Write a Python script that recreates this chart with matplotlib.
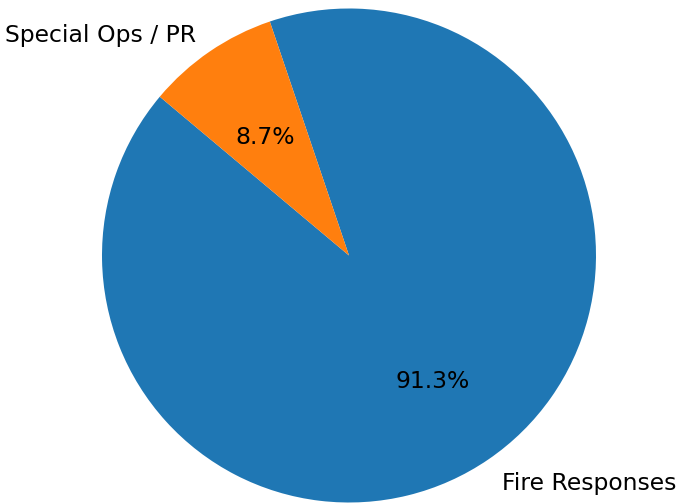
import matplotlib
matplotlib.use("Agg")
import matplotlib.pyplot as plt
from matplotlib.transforms import ScaledTranslation

labels = ["Fire Responses", "Special Ops / PR"]
values = [21, 2]
colors = ["#1f77b4", "#ff7f0e"]

W, H = 678, 504
fig = plt.figure(figsize=(W / 100, H / 100), dpi=100)
cx, cy, r = 349, 504 - 255.5, 247
half = 1.25 * r
ax = fig.add_axes([(cx - half) / W, (cy - half) / H, 2 * half / W, 2 * half / H])
wedges, texts, autotexts = ax.pie(values, labels=labels, colors=colors,
                                  autopct="%1.1f%%", startangle=140,
                                  textprops={"fontsize": 16.9})
shift = ScaledTranslation(0, -4 / 100, fig.dpi_scale_trans)
for t in list(texts) + list(autotexts):
    t.set_transform(t.get_transform() + shift)
ax.set_xlim(-1.25, 1.25)
ax.set_ylim(-1.25, 1.25)
ax.set_aspect("equal")
fig.savefig("out.png", dpi=100)
